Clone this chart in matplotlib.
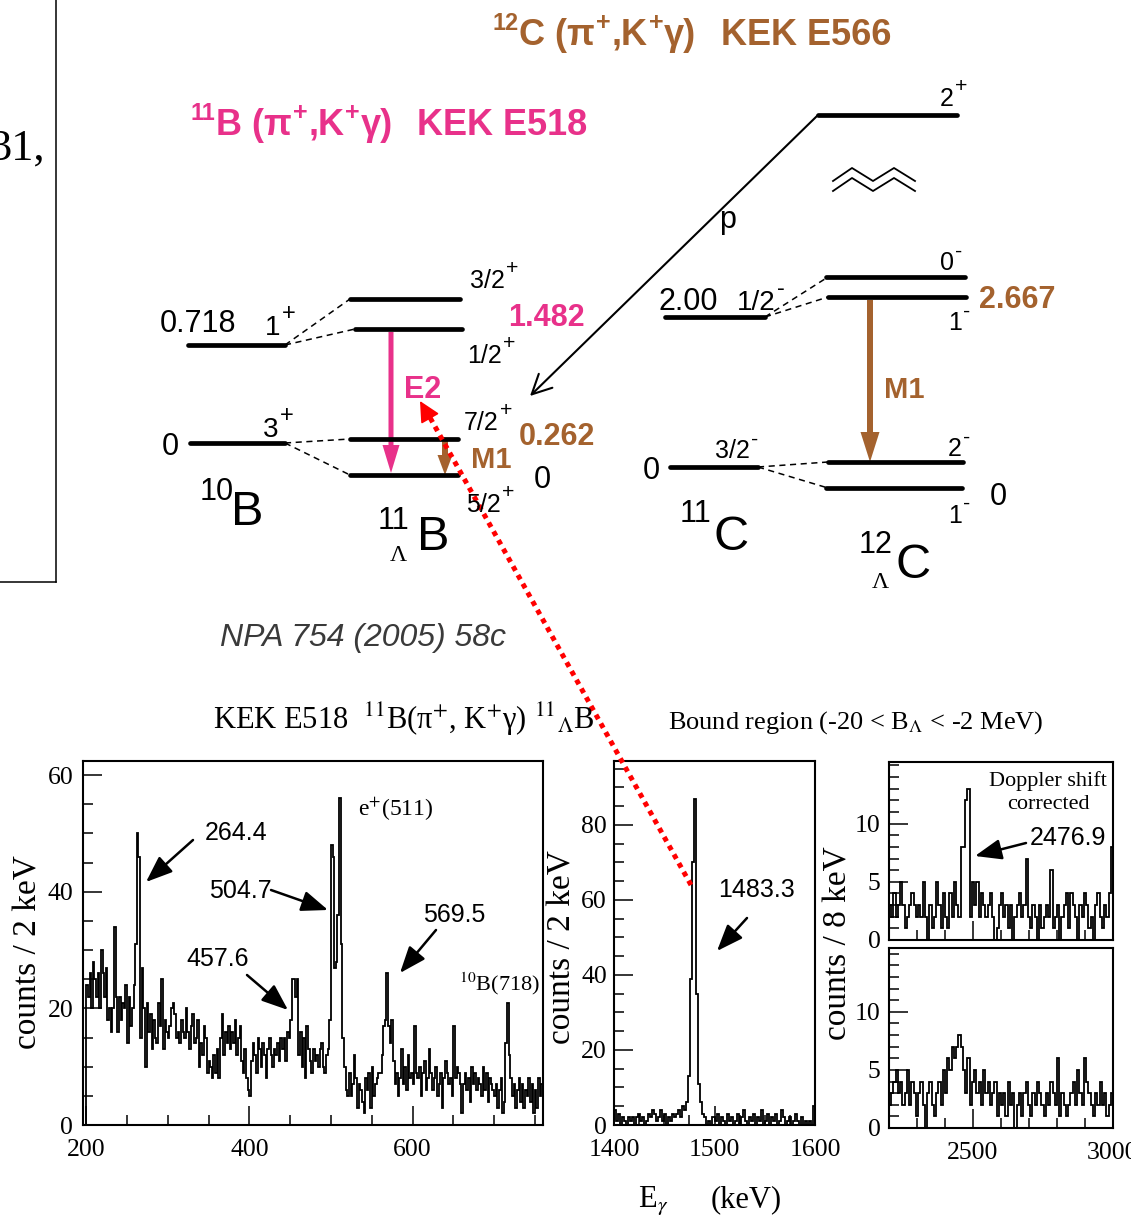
import numpy as np
import matplotlib
matplotlib.use('Agg')
import matplotlib.pyplot as plt
from matplotlib.ticker import MultipleLocator

plt.rcParams['mathtext.fontset'] = 'stix'

# ---------------- data ----------------
# KEK E518 11B(pi+,K+gamma) spectrum, 2 keV bins from 200 keV
p1_start, p1_bin = 200, 2
p1_counts = [
    24, 22, 26, 20, 28, 25, 22, 26, 20, 30,
    26, 22, 27, 18, 20, 16, 20, 34, 22, 16,
    22, 18, 21, 20, 24, 14, 22, 17, 20, 24,
    31, 50, 46, 15, 27, 20, 10, 21, 16, 19,
    13, 18, 15, 14, 21, 17, 25, 13, 18, 16,
    15, 17, 20, 21, 19, 15, 16, 14, 18, 16,
    15, 20, 16, 13, 17, 19, 14, 15, 18, 10,
    14, 12, 17, 15, 9, 11, 10, 8, 12, 9,
    13, 8, 15, 19, 12, 16, 14, 17, 13, 16,
    14, 18, 12, 15, 17, 11, 9, 13, 8, 6,
    5, 11, 14, 12, 9, 15, 13, 10, 14, 12,
    8, 13, 15, 12, 10, 13, 12, 14, 11, 15,
    13, 15, 11, 16, 15, 18, 25, 25, 22, 25,
    12, 16, 10, 15, 8, 17, 13, 11, 9, 13,
    11, 12, 10, 13, 14, 10, 9, 12, 13, 18,
    48, 46, 27, 28, 36, 56, 31, 15, 10, 6,
    5, 9, 5, 7, 12, 8, 3, 7, 6, 4,
    2, 8, 6, 9, 3, 10, 5, 7, 8, 9,
    9, 12, 17, 18, 26, 17, 14, 18, 11, 7,
    9, 5, 8, 13, 7, 10, 6, 12, 8, 9,
    7, 17, 9, 8, 10, 5, 9, 11, 6, 8,
    13, 9, 6, 8, 10, 5, 7, 9, 3, 8,
    11, 9, 7, 8, 5, 17, 8, 10, 9, 7,
    2, 7, 9, 6, 8, 4, 10, 7, 9, 6,
    8, 7, 5, 10, 6, 9, 4, 8, 7, 6,
    5, 7, 3, 6, 8, 2, 4, 14, 21, 12,
    8, 5, 7, 3, 6, 8, 4, 7, 3, 6,
    5, 8, 4, 7, 2, 6, 3, 8, 5, 7,
]
# 1400-1600 keV, 2 keV bins
p2_start, p2_bin = 1400, 2
p2_counts = [
    4, 1, 3, 0, 2, 1, 0, 2, 1, 2,
    0, 2, 3, 1, 2, 0, 1, 3, 2, 4,
    3, 1, 2, 4, 1, 3, 0, 2, 1, 3,
    2, 3, 4, 2, 5, 4, 6, 13, 39, 70,
    87, 35, 11, 6, 3, 2, 0, 1, 0, 2,
    1, 3, 0, 2, 1, 0, 3, 1, 2, 0,
    1, 3, 0, 2, 4, 1, 0, 2, 1, 3,
    0, 2, 1, 4, 0, 1, 3, 0, 2, 1,
    3, 0, 1, 4, 2, 0, 1, 2, 0, 1,
    3, 1, 0, 2, 0, 1, 0, 1, 0, 5,
]
# 2200-3000 keV, 8 keV bins: Doppler-shift corrected (upper) and raw (lower)
p3_start, p3_bin = 2200, 8
p3_counts = [
    3, 2, 4, 2, 3, 5, 3, 1, 2, 3,
    4, 3, 2, 3, 2, 5, 2, 0, 3, 1,
    2, 5, 3, 1, 4, 2, 1, 4, 2, 5,
    3, 2, 8, 8, 12, 13, 2, 5, 3, 5,
    2, 4, 3, 2, 3, 4, 2, 0, 1, 3,
    4, 2, 3, 1, 3, 0, 2, 3, 4, 2,
    3, 7, 2, 1, 3, 2, 0, 3, 1, 2,
    3, 2, 6, 1, 2, 3, 0, 2, 3, 4,
    1, 4, 3, 2, 0, 3, 2, 4, 3, 1,
    2, 0, 3, 4, 2, 1, 3, 2, 4, 8,
]
p4_counts = [
    2, 3, 4, 5, 3, 4, 2, 3, 5, 2,
    4, 3, 1, 3, 4, 2, 0, 3, 4, 2,
    1, 3, 4, 2, 5, 3, 6, 5, 7, 6,
    7, 8, 7, 5, 3, 6, 2, 4, 5, 3,
    4, 2, 5, 3, 4, 2, 3, 4, 1, 3,
    2, 3, 1, 4, 2, 3, 0, 2, 3, 1,
    3, 4, 2, 1, 3, 2, 4, 3, 2, 1,
    3, 2, 4, 3, 2, 6, 1, 3, 2, 1,
    2, 3, 4, 2, 5, 3, 2, 6, 4, 3,
    2, 1, 3, 2, 4, 2, 3, 1, 2, 3,
]
p1_xticks = [200, 400, 600]
p1_yticks = [0, 20, 40, 60]
p2_xticks = [1400, 1500, 1600]
p2_yticks = [0, 20, 40, 60, 80]
p34_xticks = [2500, 3000]
p34_yticks = [0, 5, 10]

# ---------------- figure ----------------
W, H = 1131, 1218
fig = plt.figure(figsize=(W / 100, H / 100), dpi=100)
SERIF = ['Liberation Serif', 'DejaVu Serif']
SANS = ['Liberation Sans', 'DejaVu Sans']
PINK = '#E8318A'
BROWN = '#A4622E'


def add_ax(x0, y0, x1, y1):
    return fig.add_axes([x0 / W, 1 - y1 / H, (x1 - x0) / W, (y1 - y0) / H])


def style_ax(ax, xmin, ymin, xt, yt, xlabels=True, ypad=6):
    for s in ax.spines.values():
        s.set_linewidth(1.5)
    ax.set_xticks(xt)
    ax.set_yticks(yt)
    ax.xaxis.set_minor_locator(MultipleLocator(xmin))
    ax.yaxis.set_minor_locator(MultipleLocator(ymin))
    ax.tick_params(which='both', direction='in', top=False, right=False, width=1.1)
    ax.tick_params(which='major', length=14)
    ax.tick_params(which='minor', length=7)
    ax.tick_params(axis='y', which='major', pad=ypad)
    ax.tick_params(axis='x', which='major', pad=10)
    for lab in ax.get_xticklabels() + ax.get_yticklabels():
        lab.set_family(SERIF)
        lab.set_fontsize(18.5)
    if not xlabels:
        ax.set_xticklabels([])


def hist(ax, start, width, counts):
    c = np.asarray(counts, dtype=float)
    edges = start + width * np.arange(len(c) + 1)
    ax.stairs(c, edges, color='black', lw=1.3)


# panel 1
a1 = add_ax(83, 761, 543, 1125)
hist(a1, p1_start, p1_bin, p1_counts)
a1.set_xlim(196, 760)
a1.set_ylim(0, 62.4)
style_ax(a1, 50, 5, p1_xticks, p1_yticks, ypad=7)

# panel 2
a2 = add_ax(614, 761, 815, 1125)
hist(a2, p2_start, p2_bin, p2_counts)
a2.set_xlim(1400, 1600)
a2.set_ylim(0, 97)
style_ax(a2, 25, 5, p2_xticks, p2_yticks, ypad=5)

# panel 3
a3 = add_ax(889, 762, 1113, 940)
hist(a3, p3_start, p3_bin, p3_counts)
a3.set_xlim(2200, 3000)
a3.set_ylim(0, 15.3)
style_ax(a3, 100, 1, p34_xticks, p34_yticks, xlabels=False, ypad=6)

# panel 4
a4 = add_ax(889, 948, 1113, 1128)
hist(a4, p3_start, p3_bin, p4_counts)
a4.set_xlim(2200, 3000)
a4.set_ylim(0, 15.5)
style_ax(a4, 100, 1, p34_xticks, p34_yticks, ypad=6)

# overlay in pixel coordinates
ov = fig.add_axes([0, 0, 1, 1], zorder=10)
ov.set_xlim(0, W)
ov.set_ylim(H, 0)
ov.axis('off')
renderer = fig.canvas.get_renderer()


def rich(x, y, parts, size, color='black', weight='normal', family=SANS,
         style='normal', supscale=0.65, rise=0.55, plusscale=0.85):
    cx = x
    px = size * 100 / 72
    for txt, kind in parts:
        if kind == 'sup':
            sc = plusscale if txt in '+-' else supscale
            s, dy = size * sc, -px * rise
        elif kind == 'sub':
            s, dy = size * supscale, px * 0.25
        else:
            s, dy = size, 0
        t = ov.text(cx, y + dy, txt, fontsize=s, color=color, fontweight=weight,
                    family=family, style=style, ha='left', va='baseline')
        cx += t.get_window_extent(renderer).width + 1
    return cx


def level(x0, x1, y):
    ov.plot([x0, x1], [y, y], color='black', lw=3.4, solid_capstyle='round')


def dash(p, q):
    ov.plot([p[0], q[0]], [p[1], q[1]], color='black', lw=1.1, dashes=(4, 3))


# left-edge box fragment
ov.plot([56, 56], [0, 582], color='black', lw=1.1)
ov.plot([0, 56], [582, 582], color='black', lw=1.1)
ov.text(-10, 160, '31,', family=SERIF, fontsize=32, ha='left', va='baseline')

# headers
rich(190, 135, [('11', 'sup'), ('B (π', 'n'), ('+', 'sup'), (',K', 'n'), ('+', 'sup'), ('γ)', 'n')],
     26, color=PINK, weight='bold', rise=0.42, plusscale=0.7)
ov.text(417, 135, 'KEK E518', fontsize=26, color=PINK, fontweight='bold', family=SANS, va='baseline')
rich(492, 45, [('12', 'sup'), ('C (π', 'n'), ('+', 'sup'), (',K', 'n'), ('+', 'sup'), ('γ)', 'n')],
     26, color=BROWN, weight='bold', rise=0.42, plusscale=0.7)
ov.text(721, 45, 'KEK E566', fontsize=26, color=BROWN, fontweight='bold', family=SANS, va='baseline')

# 10B
level(188, 285, 345)
level(190, 285, 443)
ov.text(160, 332, '0.718', fontsize=22, family=SANS, va='baseline')
rich(265, 335, [('1', 'n'), ('+', 'sup')], 20)
ov.text(162, 455, '0', fontsize=22, family=SANS, va='baseline')
rich(263, 437, [('3', 'n'), ('+', 'sup')], 20)
ov.text(200, 500, '10', fontsize=22, family=SANS, va='baseline')
ov.text(231, 525, 'B', fontsize=35, family=SANS, va='baseline')

# 11-Lambda-B
level(350, 460, 299)
level(355, 462, 329)
level(350, 458, 439)
level(350, 458, 475)
dash((285, 345), (350, 299))
dash((285, 345), (355, 329))
dash((285, 443), (350, 439))
dash((285, 443), (350, 475))
rich(470, 288, [('3/2', 'n'), ('+', 'sup')], 18)
ov.text(508, 326, '1.482', fontsize=22, color=PINK, fontweight='bold', family=SANS, va='baseline')
rich(467, 363, [('1/2', 'n'), ('+', 'sup')], 18)
rich(464, 430, [('7/2', 'n'), ('+', 'sup')], 18)
ov.text(519, 445, '0.262', fontsize=22, color=BROWN, fontweight='bold', family=SANS, va='baseline')
ov.text(471, 468, 'M1', fontsize=21, color=BROWN, fontweight='bold', family=SANS, va='baseline')
rich(466, 512, [('5/2', 'n'), ('+', 'sup')], 18)
ov.text(534, 488, '0', fontsize=22, family=SANS, va='baseline')
ov.text(404, 398, 'E2', fontsize=22, color=PINK, fontweight='bold', family=SANS, va='baseline')
ov.text(378, 529, '11', fontsize=22, family=SANS, va='baseline')
ov.text(417, 550, 'B', fontsize=35, family=SANS, va='baseline')
ov.text(390, 561, 'Λ', fontsize=17, family=SERIF, va='baseline')
ov.arrow(391, 332, 0, 141, width=5, head_width=17, head_length=28,
         length_includes_head=True, color=PINK, lw=0)
ov.arrow(445, 441, 0, 34, width=6, head_width=15, head_length=20,
         length_includes_head=True, color=BROWN, lw=0)

# 11C
level(665, 765, 317)
level(670, 758, 467)
ov.text(658, 310, '2.00', fontsize=22, family=SANS, va='baseline')
rich(737, 310, [('1/2', 'n'), ('-', 'sup')], 20)
ov.text(643, 479, '0', fontsize=22, family=SANS, va='baseline')
rich(715, 458, [('3/2', 'n'), ('-', 'sup')], 18)
ov.text(680, 522, '11', fontsize=22, family=SANS, va='baseline')
ov.text(713, 550, 'C', fontsize=35, family=SANS, va='baseline')

# 12-Lambda-C
level(818, 957, 115)
level(826, 965, 277)
level(828, 966, 297)
level(828, 963, 462)
level(826, 962, 488)
dash((765, 317), (828, 277))
dash((765, 317), (828, 297))
dash((758, 467), (828, 462))
dash((758, 467), (828, 488))
rich(940, 106, [('2', 'n'), ('+', 'sup')], 18)
rich(940, 270, [('0', 'n'), ('-', 'sup')], 18)
ov.text(979, 308, '2.667', fontsize=22, color=BROWN, fontweight='bold', family=SANS, va='baseline')
rich(948, 330, [('1', 'n'), ('-', 'sup')], 18)
ov.text(884, 398, 'M1', fontsize=21, color=BROWN, fontweight='bold', family=SANS, va='baseline')
rich(948, 456, [('2', 'n'), ('-', 'sup')], 18)
ov.text(990, 505, '0', fontsize=22, family=SANS, va='baseline')
rich(948, 523, [('1', 'n'), ('-', 'sup')], 18)
ov.text(859, 553, '12', fontsize=22, family=SANS, va='baseline')
ov.text(896, 578, 'C', fontsize=35, family=SANS, va='baseline')
ov.text(872, 588, 'Λ', fontsize=17, family=SERIF, va='baseline')
ov.arrow(870, 300, 0, 162, width=6, head_width=19, head_length=30,
         length_includes_head=True, color=BROWN, lw=0)

# proton-emission line and zig-zag break
ov.annotate('', xy=(530, 396), xytext=(818, 115),
            arrowprops=dict(arrowstyle='->,head_length=0.7,head_width=0.35', lw=1.5,
                            color='black', shrinkA=0, shrinkB=0, mutation_scale=20))
ov.text(719, 228, 'p', fontsize=22, family=SANS, va='baseline')
zx = [833, 852, 873, 894, 915]
ov.plot(zx, [181, 168, 181, 168, 181], color='black', lw=1.3)
ov.plot(zx, [191, 178, 191, 178, 191], color='black', lw=1.3)

# reference
ov.text(220, 646, 'NPA 754 (2005) 58c', fontsize=23, style='italic', family=SANS,
        color='#3a3a3a', va='baseline')

# bottom titles
ov.text(213, 729, 'KEK E518  $^{11}$B(π$^{+}$, K$^{+}$γ) $^{11}{}_{\\Lambda}$B', fontsize=22,
        family=SERIF, va='baseline')
ov.text(668, 729, 'Bound region (-20 < B$_{\\Lambda}$ < -2 MeV)', fontsize=19,
        family=SERIF, va='baseline')

# axis labels
ov.text(28, 952, 'counts / 2 keV', rotation=90, fontsize=24, family=SERIF, ha='center', va='center')
ov.text(562, 947, 'counts / 2 keV', rotation=90, fontsize=24, family=SERIF, ha='center', va='center')
ov.text(838, 943, 'counts / 8 keV', rotation=90, fontsize=24, family=SERIF, ha='center', va='center')
ov.text(638, 1207, 'E$_{\\gamma}$', fontsize=22, family=SERIF, va='baseline')
ov.text(711, 1207, '(keV)', fontsize=22, family=SERIF, va='baseline')


# peak annotations
def note(txt, tx, ty, p, q, family=SANS, size=18):
    ov.text(tx, ty, txt, fontsize=size, family=family, va='baseline')
    ov.annotate('', xy=q, xytext=p,
                arrowprops=dict(arrowstyle='-|>,head_length=0.9,head_width=0.35', lw=1.8,
                                color='black', shrinkA=0, shrinkB=0, mutation_scale=18))


note('264.4', 205, 840, (193, 840), (146, 882))
note('504.7', 209, 898, (271, 890), (328, 910))
note('457.6', 186, 966, (247, 975), (288, 1010))
note('569.5', 423, 922, (436, 930), (400, 973))
note('1483.3', 718, 897, (747, 918), (717, 951))
note('2476.9', 1030, 845, (1026, 843), (975, 856))
ov.text(358, 816, 'e$^{+}$(511)', fontsize=17, family=SERIF, va='baseline')
ov.text(459, 990, '$^{10}$B(718)', fontsize=16, family=SERIF, va='baseline')
ov.text(1048, 786, 'Doppler shift', fontsize=16, family=SERIF, ha='center', va='baseline')
ov.text(1048, 809, 'corrected', fontsize=16, family=SERIF, ha='center', va='baseline')

# red dotted arrow linking the peak to the E2 transition
ov.plot([691, 428], [885, 414], color='red', lw=3.6, linestyle=(0, (1, 1)),
        dash_capstyle='butt')
ov.annotate('', xy=(420, 401), xytext=(428, 415),
            arrowprops=dict(arrowstyle='-|>,head_length=0.8,head_width=0.4', lw=1.2,
                            color='red', shrinkA=0, shrinkB=0, mutation_scale=16))

fig.savefig('out.png', dpi=100)
